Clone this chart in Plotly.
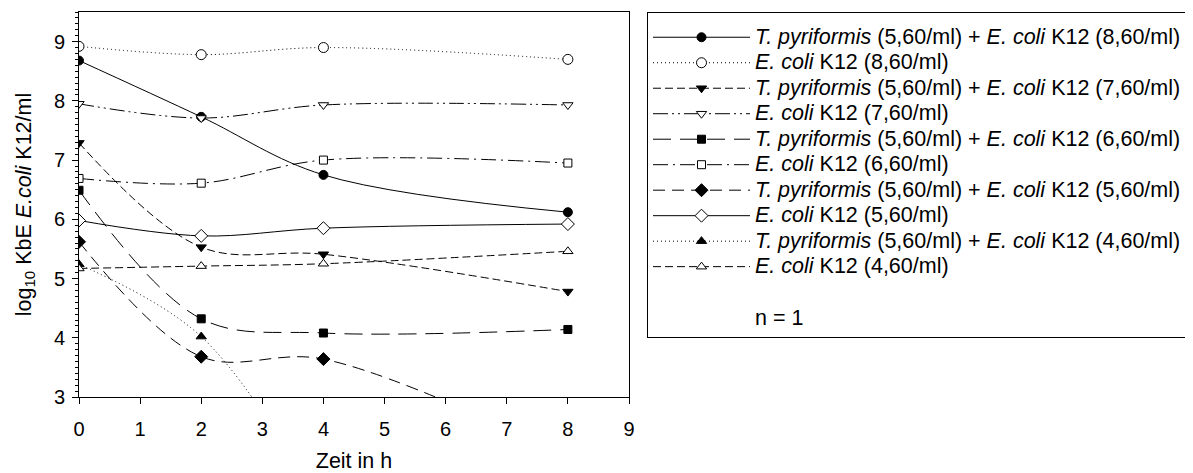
import plotly.graph_objects as go

# ---- data ----
hours = [0, 2, 4, 8]
hours_tp460 = [0, 2, 4]

tp_860 = [8.68, 7.73, 6.75, 6.12]
ec_860 = [8.92, 8.78, 8.90, 8.70]
tp_760 = [7.29, 5.53, 5.41, 4.78]
ec_760 = [7.95, 7.71, 7.93, 7.93]
tp_660 = [6.49, 4.32, 4.08, 4.14]
ec_660 = [6.69, 6.61, 7.00, 6.95]
tp_560 = [5.62, 3.68, 3.64, 2.00]
ec_560 = [5.98, 5.72, 5.85, 5.92]
tp_460 = [5.24, 4.02, 1.10]
ec_460 = [5.17, 5.21, 5.25, 5.46]

names = [
    "<i>T. pyriformis</i> (5,60/ml) + <i>E. coli</i> K12 (8,60/ml)",
    "<i>E. coli</i> K12 (8,60/ml)",
    "<i>T. pyriformis</i> (5,60/ml) + <i>E. coli</i> K12 (7,60/ml)",
    "<i>E. coli</i> K12 (7,60/ml)",
    "<i>T. pyriformis</i> (5,60/ml) + <i>E. coli</i> K12 (6,60/ml)",
    "<i>E. coli</i> K12 (6,60/ml)",
    "<i>T. pyriformis</i> (5,60/ml) + <i>E. coli</i> K12 (5,60/ml)",
    "<i>E. coli</i> K12 (5,60/ml)",
    "<i>T. pyriformis</i> (5,60/ml) + <i>E. coli</i> K12 (4,60/ml)",
    "<i>E. coli</i> K12 (4,60/ml)",
]
note_text = "n = 1"

xs = [hours, hours, hours, hours, hours, hours, hours, hours, hours_tp460, hours]
ys = [tp_860, ec_860, tp_760, ec_760, tp_660, ec_660, tp_560, ec_560, tp_460, ec_460]

# ---- styles ----
dashes = ["solid", "1px,3px", "8px,4px", "15px,4px,2px,4px,2px,4px",
          "18px,9px", "15px,5px,2px,5px", "12px,7px", "solid",
          "1px,3px", "8px,4px"]
symbols = ["circle", "circle", "triangle-down", "triangle-down", "square",
           "square", "diamond", "diamond", "triangle-up", "triangle-up"]
filled = [True, False] * 5
sizes = [9, 10, 9, 9, 8, 8, 10, 10, 9, 9]

FONT = "Liberation Sans, Arial, sans-serif"
TXT = 21.5

# the page body adds an 8px offset; the figure is sized to compensate
W, H, OFF = 1193 - 8, 473 - 8, 8
PL, PR, PT, PB = 79 - OFF, 629 - OFF, 12 - OFF, 397 - OFF

fig = go.Figure()
for i in range(len(names)):
    fig.add_trace(go.Scatter(
        x=xs[i], y=ys[i], mode="lines+markers",
        name=f'<span style="font-size:{TXT}px">{names[i]}</span>',
        legendgroup="data",
        line=dict(color="black", width=1, dash=dashes[i], shape="spline", smoothing=1),
        marker=dict(symbol=symbols[i], size=sizes[i],
                    color="black" if filled[i] else "white",
                    line=dict(color="black", width=1)),
    ))

# legend-only entry holding the "n = 1" note
fig.add_trace(go.Scatter(
    x=[None], y=[None], mode="lines",
    legendgroup="note",
    line=dict(color="rgba(0,0,0,0)", width=0),
    name=f'<span style="font-size:{TXT}px">&nbsp;</span><br><span style="font-size:{TXT}px">{note_text}</span>',
    hoverinfo="skip",
))

fig.update_layout(
    width=W, height=H,
    margin=dict(l=PL, r=W - PR, t=PT, b=H - PB),
    paper_bgcolor="white", plot_bgcolor="white",
    font=dict(family=FONT, color="black", size=20),
    showlegend=True,
    legend=dict(
        x=(647 - 79) / 550, y=1, xanchor="left", yanchor="top",
        bordercolor="black", borderwidth=1, bgcolor="white",
        font=dict(family=FONT, size=17.3, color="black"),
        itemwidth=97, traceorder="grouped", tracegroupgap=4,
        title=dict(text="&nbsp;", font=dict(size=5)),
    ),
    xaxis=dict(
        range=[0, 9], tick0=0, dtick=1, ticks="outside", ticklen=6,
        tickcolor="black", showline=True, linecolor="black", linewidth=1,
        mirror=True, showgrid=False, zeroline=False, automargin=False,
        tickfont=dict(size=20), ticklabelstandoff=8,
        title=dict(text="Zeit in h", font=dict(size=TXT), standoff=20),
    ),
    yaxis=dict(
        range=[3, 9.5], tick0=3, dtick=1, ticks="outside", ticklen=6,
        tickcolor="black", showline=True, linecolor="black", linewidth=1,
        mirror=True, showgrid=False, zeroline=False, automargin=False,
        tickfont=dict(size=20), ticklabelstandoff=3,
        minor=dict(dtick=0.1, ticks="outside", ticklen=3, tickcolor="black", showgrid=False),
        title=dict(text="log<sub>10</sub> KbE <i>E.coli</i> K12/ml", font=dict(size=TXT), standoff=16),
    ),
)

fig.write_html("out.html")
